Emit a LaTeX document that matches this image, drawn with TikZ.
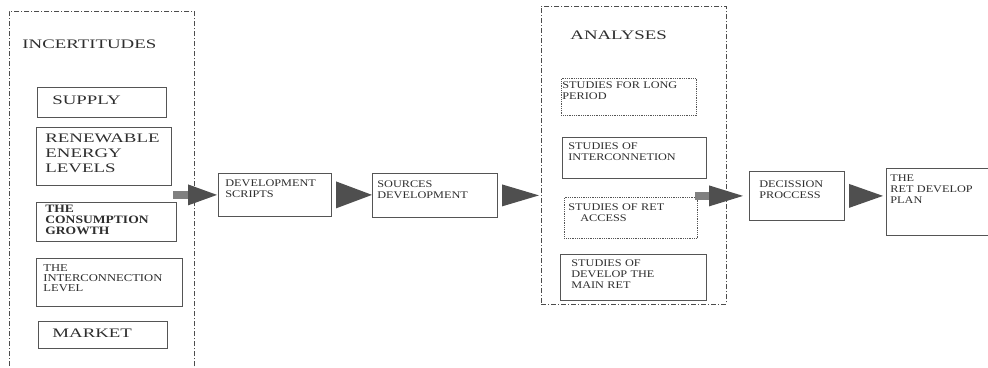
\documentclass[tikz,border=0pt]{standalone}
\usepackage{fontspec}
\setmainfont{Liberation Serif}
\newfontfamily\headfont[FakeStretch=1.45]{Liberation Serif}
\newfontfamily\boxfont[FakeStretch=1.2]{Liberation Serif}
\usetikzlibrary{arrows.meta}

\definecolor{inkgray}{HTML}{2E2E2E}
\definecolor{linegray}{HTML}{555555}
\definecolor{tipgray}{HTML}{4F4F4F}
\definecolor{shaftgray}{HTML}{808080}

\tikzset{
    box/.style={draw=linegray, line width=0.8pt, anchor=north west, inner ysep=0pt, align=left, text=inkgray},
    dotbox/.style={box, densely dotted},
    group/.style={box, draw=linegray!90!black, dash pattern=on 5pt off 2pt on 1pt off 2pt},
    bigtext/.style={font=\headfont\fontsize{13}{15}\selectfont},
    smalltext/.style={font=\boxfont\fontsize{10.2}{10.8}\selectfont},
    headarrow/.style 2 args={draw=tipgray, line width=0.1pt, -{Triangle[length=#1, width=#2, line width=0pt, color=tipgray]}},
    shaftarrow/.style 2 args={draw=shaftgray, line width=8pt, -{Triangle[length=#1, width=#2, line width=0pt, color=tipgray]}}
}

\begin{document}
\begin{tikzpicture}[x=1pt, y=-1pt]
    \useasboundingbox (0,0) rectangle (988,367);

    % incertitudes
    \node [group, bigtext, inner xsep=13pt, text width=159pt, text height=37pt, text depth=323pt] (incert) at (9,11) {INCERTITUDES};
    \node [box, bigtext, inner xsep=15pt, text width=99pt, text height=17pt, text depth=13pt] (supply) at (37,87) {SUPPLY};
    \node [box, bigtext, inner xsep=9pt, text width=117pt, text height=15pt, text depth=43pt] (renew) at (36,127) {RENEWABLE\\ENERGY\\LEVELS};
    \node [box, font=\boxfont\bfseries\fontsize{11.3}{11}\selectfont, inner xsep=9pt, text width=122pt, text height=10.5pt, text depth=28.5pt] (consum) at (36,202) {THE\\CONSUMPTION\\GROWTH};
    \node [box, font=\boxfont\fontsize{10.5}{10}\selectfont, inner xsep=7pt, text width=132pt, text height=13pt, text depth=35pt] (level) at (36,258) {THE\\INTERCONNECTION\\LEVEL};
    \node [box, bigtext, inner xsep=14pt, text width=101pt, text height=16pt, text depth=11pt] (market) at (38,321) {MARKET};

    % scripts and sources
    \node [box, smalltext, inner xsep=7pt, text width=99pt, text height=13pt, text depth=30pt] (dev) at (218,173) {DEVELOPMENT\\SCRIPTS};
    \node [box, smalltext, inner xsep=5pt, text width=115pt, text height=14pt, text depth=30pt] (sources) at (372,173) {SOURCES\\DEVELOPMENT};

    % analyses
    \node [group, bigtext, inner xsep=29pt, text width=127pt, text height=33pt, text depth=265pt] (analyses) at (541,6) {ANALYSES};
    \node [dotbox, smalltext, inner xsep=1pt, text width=133pt, text height=10pt, text depth=27pt] (long) at (561,78) {STUDIES FOR LONG\\PERIOD};
    \node [box, smalltext, inner xsep=6pt, text width=132pt, text height=12pt, text depth=29pt] (inter) at (562,137) {STUDIES OF\\INTERCONNETION};
    \node [dotbox, smalltext, inner xsep=4pt, text width=125pt, text height=13.5pt, text depth=27.5pt] (access) at (564,197) {STUDIES OF RET\\\hspace*{12pt}ACCESS};
    \node [box, smalltext, inner xsep=11pt, text width=124pt, text height=12pt, text depth=34pt] (mainret) at (560,254) {STUDIES OF\\DEVELOP THE\\MAIN RET};

    % decision and plan
    \node [box, smalltext, inner xsep=10pt, text width=75pt, text height=16pt, text depth=33pt] (decision) at (749,171) {DECISSION\\PROCCESS};
    \node [box, smalltext, inner xsep=4pt, text width=110pt, text height=13pt, text depth=54pt] (plan) at (886,168) {THE\\RET DEVELOP\\PLAN};

    % arrows
    \coordinate (tail1) at ([xshift=-45pt]dev.west);
    \coordinate (tail2) at ([xshift=-54pt]decision.west);
    \draw [shaftarrow={29pt}{21pt}, shorten >=1pt] (tail1) -- (dev.west);
    \draw [headarrow={36pt}{27pt}, shorten <=5pt] (dev.east) -- (dev.east -| sources.west);
    \draw [headarrow={37pt}{22pt}, shorten <=5pt, shorten >=2pt] (sources.east) -- (sources.east -| analyses.west);
    \draw [shaftarrow={34pt}{21pt}, shorten >=6pt] (tail2) -- (decision.west);
    \draw [headarrow={34pt}{24pt}, shorten <=5pt, shorten >=3pt] (decision.east) -- (decision.east -| plan.west);
\end{tikzpicture}
\end{document}
